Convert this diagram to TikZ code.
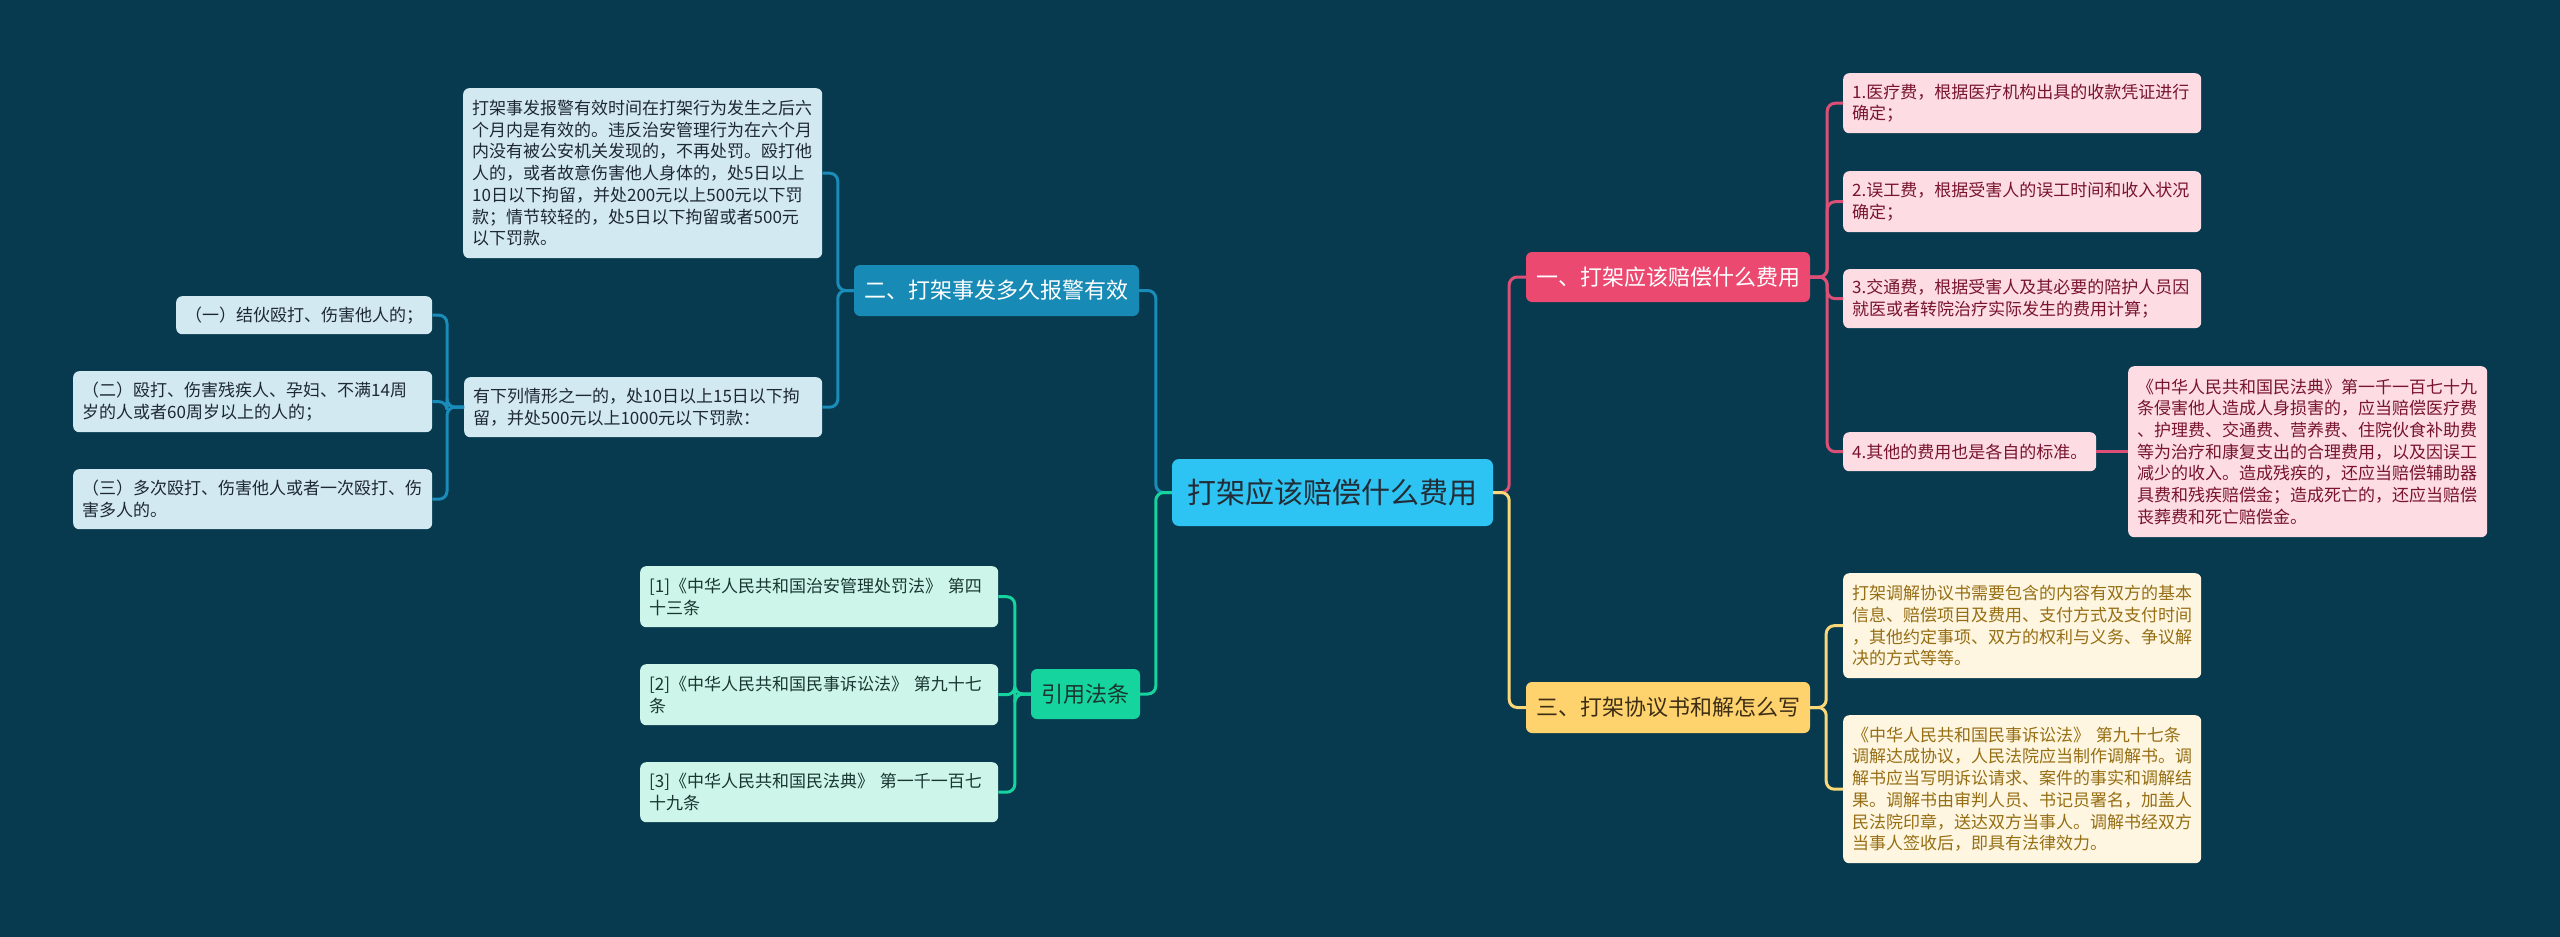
\documentclass[tikz,border=0pt]{standalone}
\usepackage{fontspec}
\setmainfont{Noto Sans CJK SC}
\definecolor{bgcol}{RGB}{7,58,78}
\definecolor{rootfill}{RGB}{45,195,242}
\definecolor{roottext}{RGB}{35,45,55}
\definecolor{bfill}{RGB}{23,139,181}
\definecolor{bleaf}{RGB}{210,233,242}
\definecolor{bline}{RGB}{25,140,185}
\definecolor{btext}{RGB}{30,40,50}
\definecolor{gfill}{RGB}{22,212,158}
\definecolor{gleaf}{RGB}{205,245,233}
\definecolor{gline}{RGB}{22,212,158}
\definecolor{gtext}{RGB}{25,55,48}
\definecolor{pfill}{RGB}{236,73,113}
\definecolor{pleaf}{RGB}{253,220,228}
\definecolor{pline}{RGB}{220,80,120}
\definecolor{ptext}{RGB}{120,20,45}
\definecolor{yfill}{RGB}{254,211,110}
\definecolor{yleaf}{RGB}{254,246,224}
\definecolor{yline}{RGB}{250,215,120}
\definecolor{ytext}{RGB}{150,110,20}
\definecolor{ybtext}{RGB}{60,45,20}
\newcommand{\leaffont}{\fontsize{17}{21.7}\selectfont}
\newcommand{\branchfont}{\fontsize{22}{26}\selectfont}
\newcommand{\rootfont}{\fontsize{29}{34}\selectfont}
\begin{document}
\begin{tikzpicture}[x=1pt,y=-1pt,
  leafbox/.style={rounded corners=6pt, inner xsep=9pt, inner ysep=0pt, align=left, font=\leaffont, anchor=north west},
  bleafbox/.style={leafbox, fill=bleaf, text=btext},
  gleafbox/.style={leafbox, fill=gleaf, text=gtext},
  pleafbox/.style={leafbox, fill=pleaf, text=ptext},
  yleafbox/.style={leafbox, fill=yleaf, text=ytext},
  branchbox/.style={rounded corners=6pt, inner sep=0pt, font=\branchfont, minimum height=50pt},
  conn/.style={line width=3pt, rounded corners=8pt},
]
\useasboundingbox (0,0) rectangle (2560,937);
\fill[bgcol] (0,0) rectangle (2560,937);

% root
\node[fill=rootfill, text=roottext, rounded corners=7pt, inner sep=0pt, font=\rootfont,
      minimum width=321pt, minimum height=67pt] (root) at (1332.5,492.5) {打架应该赔偿什么费用};

% branches
\node[branchbox, fill=pfill, text=white, minimum width=284pt] (P) at (1668,277) {一、打架应该赔偿什么费用};
\node[branchbox, fill=yfill, text=ybtext, minimum width=284pt, minimum height=51pt] (Y) at (1668,707.5) {三、打架协议书和解怎么写};
\node[branchbox, fill=bfill, text=white, minimum width=285pt, minimum height=51pt] (B) at (996.5,290.5) {二、打架事发多久报警有效};
\node[branchbox, fill=gfill, text=gtext, minimum width=109pt] (G) at (1085.5,694) {引用法条};

% pink leaves
\node[pleafbox, text width=340pt, minimum height=60pt] (P1) at (1843,73) {1.医疗费，根据医疗机构出具的收款凭证进行\\确定；};
\node[pleafbox, text width=340pt, minimum height=61pt] (P2) at (1843,171) {2.误工费，根据受害人的误工时间和收入状况\\确定；};
\node[pleafbox, text width=340pt, minimum height=59pt] (P3) at (1843,269) {3.交通费，根据受害人及其必要的陪护人员因\\就医或者转院治疗实际发生的费用计算；};
\node[pleafbox, text width=235pt, minimum height=39pt] (P4) at (1843,432) {4.其他的费用也是各自的标准。};
\node[pleafbox, text width=341pt, minimum height=171pt] (P5) at (2128,366) {《中华人民共和国民法典》第一千一百七十九\\条侵害他人造成人身损害的，应当赔偿医疗费\\、护理费、交通费、营养费、住院伙食补助费\\等为治疗和康复支出的合理费用，以及因误工\\减少的收入。造成残疾的，还应当赔偿辅助器\\具费和残疾赔偿金；造成死亡的，还应当赔偿\\丧葬费和死亡赔偿金。};

% yellow leaves
\node[yleafbox, text width=340pt, minimum height=105pt] (Y1) at (1843,573) {打架调解协议书需要包含的内容有双方的基本\\信息、赔偿项目及费用、支付方式及支付时间\\，其他约定事项、双方的权利与义务、争议解\\决的方式等等。};
\node[yleafbox, text width=340pt, minimum height=148pt] (Y2) at (1843,715) {《中华人民共和国民事诉讼法》~第九十七条\\调解达成协议，人民法院应当制作调解书。调\\解书应当写明诉讼请求、案件的事实和调解结\\果。调解书由审判人员、书记员署名，加盖人\\民法院印章，送达双方当事人。调解书经双方\\当事人签收后，即具有法律效力。};

% blue leaves
\node[bleafbox, text width=341pt, minimum height=170pt] (BT) at (463,88) {打架事发报警有效时间在打架行为发生之后六\\个月内是有效的。违反治安管理行为在六个月\\内没有被公安机关发现的，不再处罚。殴打他\\人的，或者故意伤害他人身体的，处5日以上\\10日以下拘留，并处200元以上500元以下罚\\款；情节较轻的，处5日以下拘留或者500元\\以下罚款。};
\node[bleafbox, text width=340pt, minimum height=60pt] (BM) at (464,377) {有下列情形之一的，处10日以上15日以下拘\\留，并处500元以上1000元以下罚款：};
\node[bleafbox, text width=238pt, minimum height=38pt] (B1) at (176,296) {（一）结伙殴打、伤害他人的；};
\node[bleafbox, text width=341pt, minimum height=61pt] (B2) at (73,371) {（二）殴打、伤害残疾人、孕妇、不满14周\\岁的人或者60周岁以上的人的；};
\node[bleafbox, text width=341pt, minimum height=60pt] (B3) at (73,469) {（三）多次殴打、伤害他人或者一次殴打、伤\\害多人的。};

% green leaves
\node[gleafbox, text width=340pt, minimum height=61pt] (G1) at (640,566) {{[1]}《中华人民共和国治安管理处罚法》~第四\\十三条};
\node[gleafbox, text width=340pt, minimum height=61pt] (G2) at (640,664) {{[2]}《中华人民共和国民事诉讼法》~第九十七\\条};
\node[gleafbox, text width=340pt, minimum height=60pt] (G3) at (640,762) {{[3]}《中华人民共和国民法典》~第一千一百七\\十九条};

% connectors root -> branches
\draw[conn, bline] (root.west) -- ++(-16,0) |- (B.east);
\draw[conn, gline] (root.west) -- ++(-16,0) |- (G.east);
\draw[conn, pline] (root.east) -- ++(16,0) |- (P.west);
\draw[conn, yline] (root.east) -- ++(16,0) |- (Y.west);

% pink
\foreach \n in {P1,P2,P3,P4} \draw[conn, pline] (P.east) -- ++(17,0) |- (\n.west);
\draw[conn, pline] (P4.east) -- (P5.west);

% yellow
\foreach \n in {Y1,Y2} \draw[conn, yline] (Y.east) -- ++(16,0) |- (\n.west);

% blue
\foreach \n in {BT,BM} \draw[conn, bline] (B.west) -- ++(-16,0) |- (\n.east);
\foreach \n in {B1,B2,B3} \draw[conn, bline] (BM.west) -- ++(-17,0) |- (\n.east);

% green
\foreach \n in {G1,G2,G3} \draw[conn, gline] (G.west) -- ++(-16,0) |- (\n.east);
\end{tikzpicture}
\end{document}
